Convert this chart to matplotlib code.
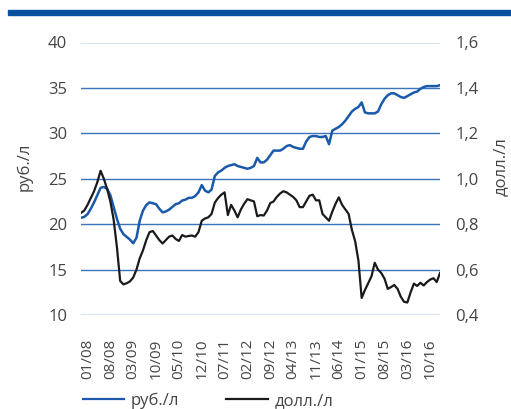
import numpy as np
import pandas as pd
import matplotlib
matplotlib.use("Agg")
import matplotlib.pyplot as plt
from matplotlib.patches import Rectangle
from matplotlib.lines import Line2D

# monthly data, 11/2007 .. 01/2017
start_month = "2007-11"
rub = [20.7, 20.8, 21.1, 21.7, 22.4, 23.2, 24.0, 24.1, 23.9, 23.2,
       21.9, 20.6, 19.5, 18.9, 18.6, 18.3, 17.9, 18.5, 20.4, 21.5,
       22.1, 22.4, 22.3, 22.2, 21.7, 21.3, 21.4, 21.6, 21.9, 22.2,
       22.3, 22.6, 22.7, 22.9, 22.9, 23.1, 23.5, 24.3, 23.7, 23.5,
       23.8, 25.3, 25.7, 25.9, 26.2, 26.4, 26.5, 26.6, 26.4, 26.3,
       26.2, 26.1, 26.2, 26.4, 27.3, 26.8, 26.8, 27.1, 27.6, 28.1,
       28.1, 28.1, 28.3, 28.6, 28.7, 28.5, 28.4, 28.3, 28.3, 29.1,
       29.6, 29.7, 29.7, 29.6, 29.6, 29.7, 28.8, 30.3, 30.5, 30.7,
       31.0, 31.4, 31.9, 32.4, 32.7, 32.9, 33.4, 32.3, 32.2, 32.2,
       32.2, 32.4, 33.2, 33.8, 34.2, 34.4, 34.4, 34.2, 34.0, 33.9,
       34.1, 34.3, 34.5, 34.6, 34.9, 35.1, 35.2, 35.2, 35.2, 35.2, 35.3]
usd = [0.85, 0.86, 0.885, 0.915, 0.945, 0.985, 1.035, 1.0, 0.955, 0.9,
       0.82, 0.70, 0.55, 0.535, 0.54, 0.548, 0.565, 0.6, 0.65, 0.685,
       0.73, 0.765, 0.77, 0.75, 0.73, 0.715, 0.73, 0.745, 0.75, 0.735,
       0.726, 0.752, 0.745, 0.748, 0.75, 0.745, 0.765, 0.815, 0.825, 0.83,
       0.845, 0.895, 0.915, 0.93, 0.94, 0.84, 0.885, 0.86, 0.83, 0.865,
       0.89, 0.91, 0.905, 0.9, 0.835, 0.84, 0.838, 0.86, 0.893, 0.9,
       0.92, 0.935, 0.945, 0.94, 0.93, 0.92, 0.905, 0.875, 0.875, 0.9,
       0.925, 0.93, 0.905, 0.905, 0.845, 0.83, 0.815, 0.855, 0.89, 0.918,
       0.885, 0.865, 0.845, 0.775, 0.725, 0.64, 0.475, 0.51, 0.54, 0.57,
       0.63, 0.6, 0.585, 0.56, 0.515, 0.523, 0.532, 0.515, 0.48, 0.458,
       0.455, 0.5, 0.538, 0.528, 0.542, 0.53, 0.545, 0.556, 0.562, 0.545, 0.585]
tick_labels = ["01/08", "08/08", "03/09", "10/09", "05/10", "12/10", "07/11",
               "02/12", "09/12", "04/13", "11/13", "06/14", "01/15", "08/15",
               "03/16", "10/16"]
left_ticks = [10, 15, 20, 25, 30, 35, 40]
right_ticks = [0.4, 0.6, 0.8, 1.0, 1.2, 1.4, 1.6]
series_names = ["руб./л", "долл./л"]

n = min(len(rub), len(usd))
dates = pd.date_range(start_month, periods=n, freq="MS")
months = [d.strftime("%m/%y") for d in dates]
x = np.arange(n)
tick_pos = [months.index(l) for l in tick_labels]

FONT = "Open Sans"
TXT = "#444444"
GRID = "#3d73bb"
BLUE = "#1a5aab"
BLACK = "#1a1a1a"

fig = plt.figure(figsize=(5.11, 4.09), dpi=100)
fig.patches.append(Rectangle((8 / 511, 1 - 15 / 409), 1 - 8 / 511, 5 / 409,
                             transform=fig.transFigure, color="#0b4f9f", zorder=0))

ax = fig.add_axes([81 / 511, 94 / 409, 359 / 511, 272.5 / 409])
ax2 = ax.twinx()

ax.plot(x[:n], rub[:n], color=BLUE, lw=1.8, zorder=3)
ax2.plot(x[:n], usd[:n], color=BLACK, lw=1.6, zorder=3)

ax.set_xlim(0, n - 1)
ax.set_ylim(10, 40)
ax2.set_ylim(0.4, 1.6)
ax.set_yticks(left_ticks)
ax2.set_yticks(right_ticks)
ax.set_yticklabels([str(v) for v in left_ticks], fontsize=12, color=TXT, family=FONT)
ax2.set_yticklabels([f"{v:.1f}".replace(".", ",") for v in right_ticks], fontsize=12,
                    color=TXT, family=FONT)
ax.set_xticks(tick_pos)
ax.set_xticklabels(tick_labels, rotation=90, fontsize=11, color=TXT, family=FONT)

for a in (ax, ax2):
    for s in a.spines.values():
        s.set_visible(False)
    a.tick_params(length=0)
ax.tick_params(axis="y", pad=10)
ax2.tick_params(axis="y", pad=11)
ax.tick_params(axis="x", pad=17)

for v in left_ticks:
    ax.axhline(v, color=GRID, lw=1.0, zorder=1)

ax.set_ylabel(series_names[0], fontsize=12, color=TXT, family=FONT)
ax.yaxis.set_label_coords(-0.134, 0.545)
ax2.set_ylabel(series_names[1], fontsize=12, color=TXT, family=FONT)
ax2.yaxis.set_label_coords(1.148, 0.545)

handles = [Line2D([], [], color=BLUE, lw=1.6), Line2D([], [], color=BLACK, lw=1.6)]
fig.legend(handles, series_names, loc="center left", bbox_to_anchor=(71 / 511, 1 - 401 / 409),
           ncol=2, frameon=False, handlelength=2.5, handletextpad=0.4, columnspacing=2.8,
           prop={"family": FONT, "size": 12}, labelcolor=TXT, borderpad=0.2)

fig.savefig("out.png", dpi=100)
